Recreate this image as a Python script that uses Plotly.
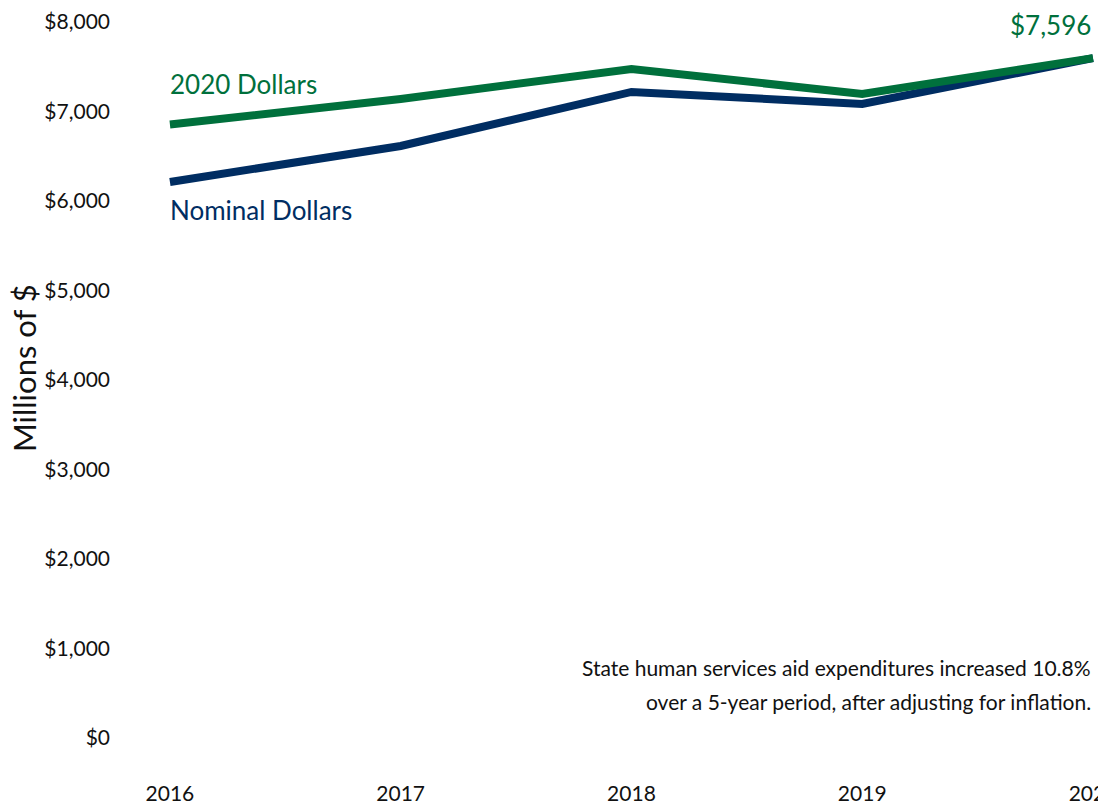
import plotly.graph_objects as go

# State human services aid expenditures, millions of dollars
years = [2016, 2017, 2018, 2019, 2020]
nominal = [6212, 6615, 7218, 7084, 7596]
real_2020 = [6855, 7140, 7475, 7196, 7596]
y_ticks = [0, 1000, 2000, 3000, 4000, 5000, 6000, 7000, 8000]
y_tick_labels = ["$0", "$1,000", "$2,000", "$3,000", "$4,000",
                 "$5,000", "$6,000", "$7,000", "$8,000"]

GREEN = "#00703C"
NAVY = "#002D62"
FONT = "Lato"
TEXT = "#111111"

L, T, B = 115, 10, 50
W, H = 1098, 804
PW, PH = W - L, H - T - B


def px(xp):
    return (xp - L) / PW


def py(yp):
    return (H - B - yp) / PH


fig = go.Figure()
fig.add_trace(go.Scatter(x=years, y=nominal, mode="lines",
                         line=dict(color=NAVY, width=8), name="Nominal Dollars"))
fig.add_trace(go.Scatter(x=years, y=real_2020, mode="lines",
                         line=dict(color=GREEN, width=8), name="2020 Dollars"))

fig.update_layout(
    width=W, height=H,
    margin=dict(l=L, r=0, t=T, b=B, autoexpand=False),
    paper_bgcolor="white", plot_bgcolor="white",
    showlegend=False,
    font=dict(family=FONT, color=TEXT),
    xaxis=dict(range=[2015.762, 2020.0217], tickvals=years,
               ticktext=[str(y) for y in years],
               showgrid=False, zeroline=False, showline=False,
               tickfont=dict(size=21), ticklabelstandoff=25,
               ticklabeloverflow="allow", automargin=False),
    yaxis=dict(range=[-179, 8134], tickvals=y_ticks, ticktext=y_tick_labels,
               showgrid=False, zeroline=False, showline=False,
               tickfont=dict(size=21), ticklabelstandoff=4, automargin=False),
)

# Series labels
fig.add_annotation(x=years[0], y=real_2020[0], xref="x", yref="y",
                   text="2020 Dollars", showarrow=False, xanchor="left",
                   yanchor="middle", yshift=40, xshift=-2,
                   font=dict(size=26, color=GREEN, family=FONT))
fig.add_annotation(x=years[0], y=nominal[0], xref="x", yref="y",
                   text="Nominal Dollars", showarrow=False, xanchor="left",
                   yanchor="middle", yshift=-28, xshift=-2,
                   font=dict(size=26, color=NAVY, family=FONT))
fig.add_annotation(x=years[-1], y=real_2020[-1], xref="x", yref="y",
                   text=f"${real_2020[-1]:,}", showarrow=False, xanchor="right",
                   yanchor="middle", yshift=33, xshift=0,
                   font=dict(size=26, color=GREEN, family=FONT))

# Y axis title
fig.add_annotation(x=px(24), y=py(368), xref="paper", yref="paper",
                   text="Millions of $", showarrow=False, textangle=-90,
                   xanchor="center", yanchor="middle",
                   font=dict(size=31, family=FONT, color=TEXT))

# Note on the inflation-adjusted change
pct = (real_2020[-1] / real_2020[0] - 1) * 100
note_lines = [f"State human services aid expenditures increased {pct:.1f}%",
              "over a 5-year period, after adjusting for inflation."]
for line, yc in zip(note_lines, [667, 701]):
    fig.add_annotation(x=px(1093), y=py(yc), xref="paper", yref="paper",
                       text=line, showarrow=False, xanchor="right",
                       yanchor="middle", align="right",
                       font=dict(size=21, family=FONT, color=TEXT))

fig.write_html("out.html")
